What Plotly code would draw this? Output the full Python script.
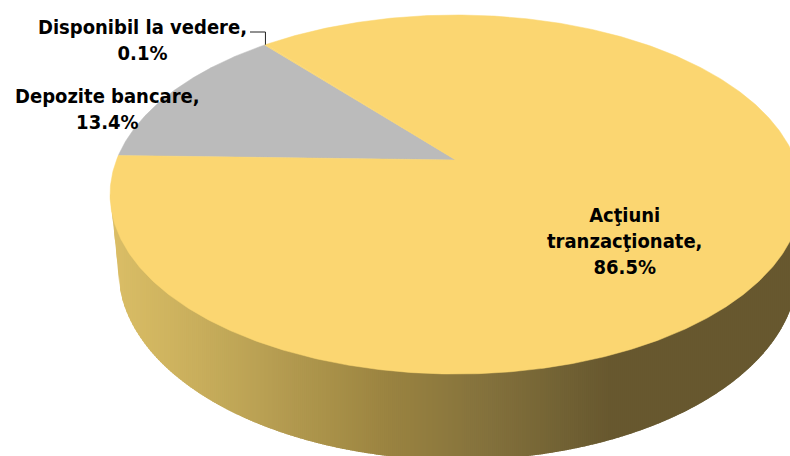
import math
import plotly.graph_objects as go

# Portfolio structure
slice_names = ["Depozite bancare", "Disponibil la vedere", "Acţiuni<br>tranzacţionate"]
slice_values = [13.4, 0.1, 86.5]
slice_colors = ["#BBBBBB", "#FBD671", "#FBD671"]
label_xy = [(107, 109), (142.5, 40), (624, 241)]

START_ANGLE = 178.5  # degrees, slices run clockwise from here
PERSPECTIVE = 0.1922
TOP_DISC = dict(cx=456.0, apex=160.0, a=172.9, b=339.5)
BOTTOM_DISC = dict(cx=458.0, apex=233.5, a=183.0, b=333.5)
WALL_STOPS = [(110, (219, 190, 102)), (200, (200, 174, 92)), (390, (154, 131, 64)),
              (490, (131, 113, 60)), (610, (103, 88, 47)), (800, (103, 88, 47))]


def rim(angle_deg, disc):
    """Project a point of the unit circle onto the tilted disc."""
    phi = math.radians(angle_deg)
    u, v = math.cos(phi), math.sin(phi)
    w = 1 + PERSPECTIVE * v
    return disc["cx"] + disc["b"] * u / w, disc["apex"] - disc["a"] * v / w


def wall_color(x):
    for (x0, c0), (x1, c1) in zip(WALL_STOPS, WALL_STOPS[1:]):
        if x <= x1:
            t = max(0.0, (x - x0) / (x1 - x0))
            r, g, b = (round(p + (q - p) * t) for p, q in zip(c0, c1))
            return f"rgb({r},{g},{b})"
    return "rgb(103,88,47)"


def disc_ellipse(disc):
    """Centre and radii of the outline traced by rim()."""
    s = math.sqrt(1 - PERSPECTIVE ** 2)
    rx, ry = disc["b"] / s, disc["a"] / s ** 2
    return disc["cx"], disc["apex"] + ry * PERSPECTIVE, rx, ry


TOP_CX, TOP_CY, TOP_RX, TOP_RY = disc_ellipse(TOP_DISC)
BOT_CX, BOT_CY, BOT_RX, BOT_RY = disc_ellipse(BOTTOM_DISC)
LEFT_TOP = TOP_CX - TOP_RX
LEFT_BOT = BOT_CX - BOT_RX


def wall_bottom(x):
    """Lower edge of the wall at a given x, joining the two outlines."""
    if x < LEFT_BOT:
        return TOP_CY + (BOT_CY - TOP_CY) * (x - LEFT_TOP) / (LEFT_BOT - LEFT_TOP)
    d = min(1.0, abs(x - BOT_CX) / BOT_RX)
    return BOT_CY + BOT_RY * math.sqrt(1 - d * d)


fig = go.Figure()

# Side wall of the disc: upright bands with a left-to-right shade; each band overlaps
# the one before it so no seams show, and the top face hides their upper ends
BAND = 2.0
x = LEFT_TOP
while x < 790:
    x1 = x + BAND
    x2 = x1 + 1.5
    color = wall_color(x + BAND / 2)
    fig.add_trace(go.Scatter(x=[x, x2, x2, x, x],
                             y=[TOP_CY, TOP_CY, wall_bottom(x2), wall_bottom(x), TOP_CY],
                             mode="lines", fill="toself", fillcolor=color,
                             line=dict(color=color, width=0), hoverinfo="skip"))
    x = x1

# Top face slices, sized from the values
total = sum(slice_values)
angle = START_ANGLE
mid_angles = []
for value, color in zip(slice_values, slice_colors):
    sweep = value / total * 360
    steps = max(2, int(sweep * 2))
    arc = [rim(angle - sweep * k / steps, TOP_DISC) for k in range(steps + 1)]
    xs = [TOP_DISC["cx"]] + [p[0] for p in arc] + [TOP_DISC["cx"]]
    ys = [TOP_DISC["apex"]] + [p[1] for p in arc] + [TOP_DISC["apex"]]
    fig.add_trace(go.Scatter(x=xs, y=ys, mode="lines", fill="toself", fillcolor=color,
                             line=dict(color=color, width=0.5), hoverinfo="skip"))
    mid_angles.append(angle - sweep / 2)
    angle -= sweep

# Leader line for the thin slice
lx, ly = rim(mid_angles[1], TOP_DISC)
fig.add_trace(go.Scatter(x=[250, lx, lx], y=[32, 32, ly], mode="lines",
                         line=dict(color="#222222", width=1), hoverinfo="skip"))

for name, value, (x, y) in zip(slice_names, slice_values, label_xy):
    fig.add_annotation(x=x, y=y, xref="x", yref="y", text=f"{name},<br>{value}%",
                       showarrow=False, align="center", xanchor="center", yanchor="middle",
                       font=dict(family="DejaVu Sans Condensed, DejaVu Sans", size=20,
                                 color="#000000", weight="bold"))

fig.update_layout(
    width=790, height=456, margin=dict(l=0, r=0, t=0, b=0),
    paper_bgcolor="white", plot_bgcolor="white", showlegend=False,
    xaxis=dict(range=[0, 790], visible=False, fixedrange=True),
    yaxis=dict(range=[456, 0], visible=False, fixedrange=True),
)
fig.write_html("out.html", config={"displayModeBar": False})
